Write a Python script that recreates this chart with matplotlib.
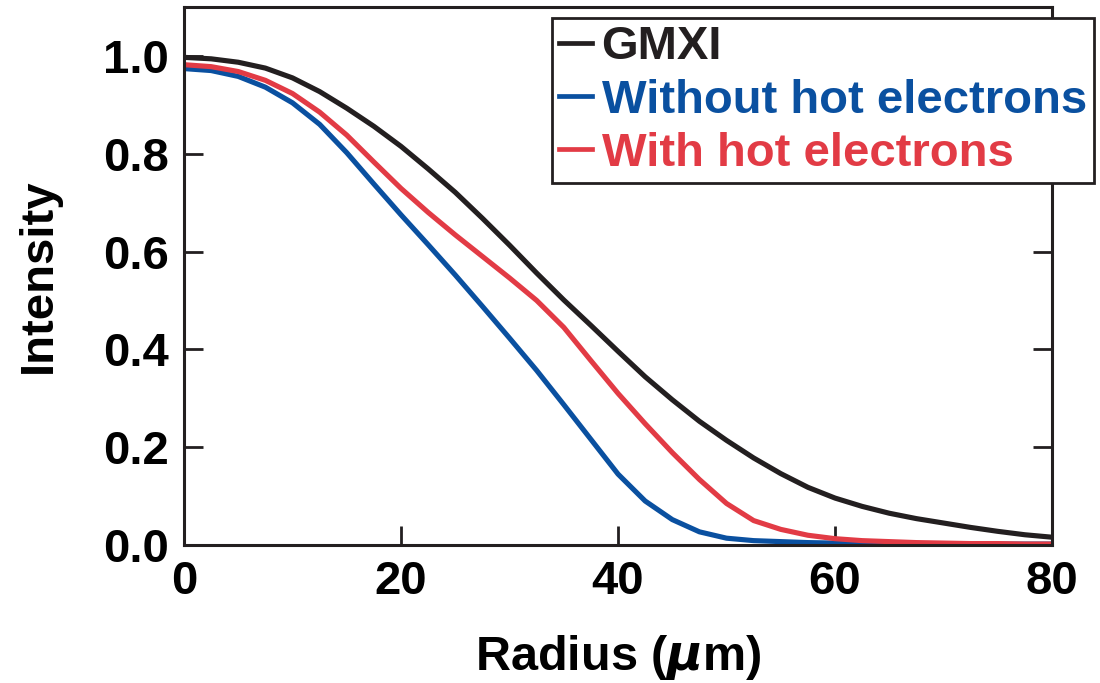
import matplotlib.pyplot as plt

# Radius (um) sample points
radius = [0, 2.5, 5, 7.5, 10, 12.5, 15, 17.5, 20, 22.5, 25, 27.5, 30, 32.5, 35, 37.5, 40,
          42.5, 45, 47.5, 50, 52.5, 55, 57.5, 60, 62.5, 65, 67.5, 70, 72.5, 75, 77.5, 80]

# Normalized intensity profiles
gmxi = [0.997, 0.994, 0.987, 0.975, 0.955, 0.927, 0.893, 0.856, 0.815, 0.769, 0.721, 0.668,
        0.613, 0.556, 0.501, 0.449, 0.396, 0.344, 0.297, 0.253, 0.214, 0.178, 0.146, 0.118,
        0.096, 0.079, 0.065, 0.054, 0.045, 0.036, 0.028, 0.021, 0.016]
without_hot = [0.974, 0.970, 0.958, 0.936, 0.904, 0.860, 0.802, 0.738, 0.675, 0.614, 0.552,
               0.488, 0.423, 0.357, 0.287, 0.216, 0.145, 0.090, 0.052, 0.027, 0.014, 0.009,
               0.007, 0.005, 0.004, 0.003, 0.003, 0.002, 0.002, 0.002, 0.002, 0.002, 0.002]
with_hot = [0.982, 0.978, 0.968, 0.950, 0.923, 0.885, 0.838, 0.783, 0.729, 0.680, 0.634,
            0.590, 0.546, 0.500, 0.445, 0.377, 0.310, 0.248, 0.189, 0.134, 0.085, 0.050,
            0.032, 0.020, 0.013, 0.009, 0.007, 0.005, 0.004, 0.003, 0.003, 0.002, 0.002]

plt.rcParams['font.family'] = ['Liberation Sans', 'DejaVu Sans']
plt.rcParams['font.weight'] = 'bold'

ink = '#231f20'
fig = plt.figure(figsize=(11, 6.83), dpi=100)
ax = fig.add_axes([0.1673, 0.2020, 0.7891, 0.7878])

ax.plot(radius, gmxi, color=ink, lw=3.7, label='GMXI', solid_joinstyle='round')
ax.plot(radius, without_hot, color='#0a50a0', lw=3.7, label='Without hot electrons',
        solid_joinstyle='round')
ax.plot(radius, with_hot, color='#e23b45', lw=3.7, label='With hot electrons',
        solid_joinstyle='round')

ax.set_xlim(0, 80)
ax.set_ylim(0, 1.1)
ax.set_xticks([0, 20, 40, 60, 80])
ax.set_yticks([0.0, 0.2, 0.4, 0.6, 0.8, 1.0])
ax.set_yticklabels(['0.0', '0.2', '0.4', '0.6', '0.8', '1.0'])

for s in ax.spines.values():
    s.set_linewidth(2.2)
    s.set_color(ink)
ax.tick_params(direction='in', length=13.5, width=2.0, color=ink, right=True,
               labelsize=34, pad=11)

ax.set_xlabel(r'Radius ($\mu$m)', fontsize=35, fontweight='bold', labelpad=21)
ax.set_ylabel('Intensity', fontsize=34, fontweight='bold', labelpad=30)

leg = ax.legend(loc='upper left', bbox_to_anchor=(0.5018, 0.9736),
                bbox_transform=fig.transFigure, fontsize=34, frameon=True,
                fancybox=False, framealpha=1, edgecolor=ink, handlelength=0.7,
                handletextpad=0.2, borderpad=0.15, labelspacing=0.2,
                borderaxespad=0, labelcolor='linecolor')
leg.get_frame().set_linewidth(2.0)
for line in leg.get_lines():
    line.set_linewidth(3.4)

fig.savefig('out.png', dpi=100)
